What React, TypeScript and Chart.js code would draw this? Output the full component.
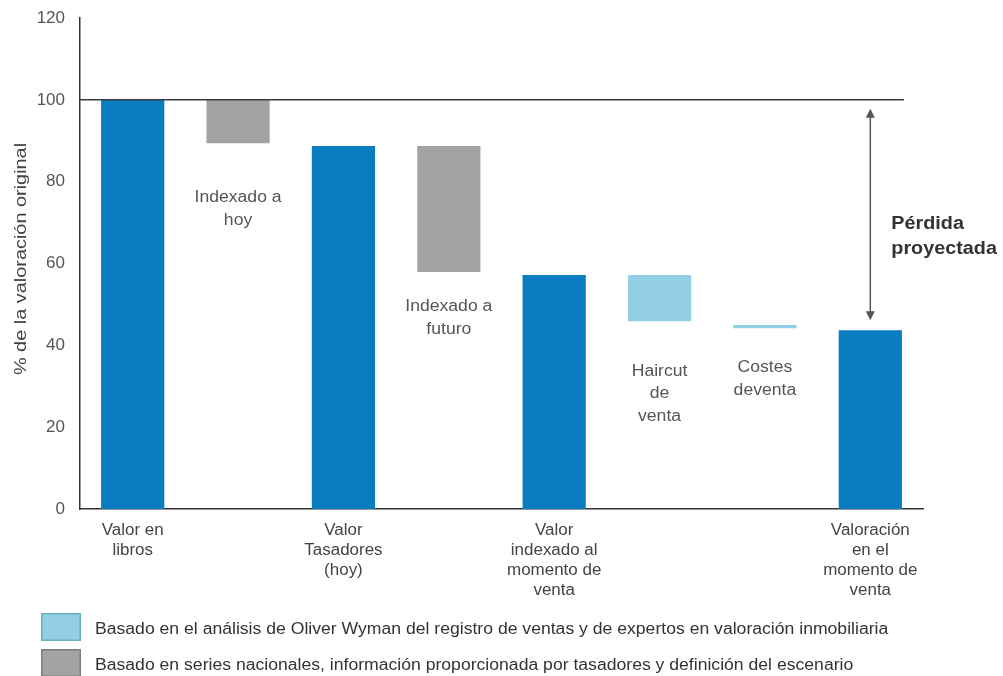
import React, { useEffect, useRef } from "react";
import { Chart, registerables } from "chart.js";
Chart.register(...registerables);

const categories: string[][] = [
  ["Valor en", "libros"],
  [],
  ["Valor", "Tasadores", "(hoy)"],
  [],
  ["Valor", "indexado al", "momento de", "venta"],
  [],
  [],
  ["Valoración", "en el", "momento de", "venta"],
];
const barStart = [0, 89.4, 0, 57.9, 0, 45.9, 44.2, 0];
const barEnd = [100, 100, 88.7, 88.7, 57.2, 57.2, 45.0, 43.7];
const barKind = ["total", "gray", "total", "gray", "total", "light", "light", "total"];
const innerLabelIndex = [1, 3, 5, 6];
const innerLabelText = [
  ["Indexado a", "hoy"],
  ["Indexado a", "futuro"],
  ["Haircut", "de", "venta"],
  ["Costes", "deventa"],
];
const innerLabelValue = [76, 49.4, 33.7, 34.5];
const yTickValues = [0, 20, 40, 60, 80, 100, 120];
const referenceLevel = 100;
const yTitle = "% de la valoración original";
const lossLabel = ["Pérdida", "proyectada"];
const legendKinds = ["light", "gray"];
const legendTexts = [
  "Basado en el análisis de Oliver Wyman del registro de ventas y de expertos en valoración inmobiliaria",
  "Basado en series nacionales, información proporcionada por tasadores y definición del escenario",
];

const COLORS: Record<string, string> = {
  total: "#0a7dc0",
  gray: "#a2a3a5",
  light: "#92cfe6",
};
const LEGEND_BORDER: Record<string, string> = {
  light: "#6aaebf",
  gray: "#7d7d7d",
};
const FONT = "Arial, 'Liberation Sans', sans-serif";

function drawStretched(ctx: CanvasRenderingContext2D, text: string, x: number, y: number, align: CanvasTextAlign, sx: number) {
  ctx.save();
  ctx.translate(x, y);
  ctx.scale(sx, 1);
  ctx.textAlign = align;
  ctx.textBaseline = "middle";
  ctx.fillText(text, 0, 0);
  ctx.restore();
}

const overlayPlugin = {
  id: "overlay",
  afterDatasetsDraw(chart: any) {
    const ctx = chart.ctx as CanvasRenderingContext2D;
    const x = chart.scales.x;
    const y = chart.scales.y;
    const meta = chart.getDatasetMeta(0);
    ctx.save();
    // reference line at 100
    const last = meta.data[meta.data.length - 1];
    const lineRight = last.x + last.width / 2 + 2;
    const yRef = y.getPixelForValue(referenceLevel);
    ctx.strokeStyle = "#3a3a3a";
    ctx.lineWidth = 1.5;
    ctx.beginPath();
    ctx.moveTo(chart.chartArea.left, yRef);
    ctx.lineTo(lineRight, yRef);
    ctx.stroke();

    // arrow
    const ax = last.x;
    const yTop = yRef + 9;
    const yBot = y.getPixelForValue(barEnd[barEnd.length - 1]) - 10;
    ctx.strokeStyle = "#555";
    ctx.fillStyle = "#555";
    ctx.lineWidth = 1.5;
    ctx.beginPath();
    ctx.moveTo(ax, yTop + 6);
    ctx.lineTo(ax, yBot - 6);
    ctx.stroke();
    ctx.beginPath();
    ctx.moveTo(ax, yTop);
    ctx.lineTo(ax - 4.5, yTop + 9);
    ctx.lineTo(ax + 4.5, yTop + 9);
    ctx.closePath();
    ctx.fill();
    ctx.beginPath();
    ctx.moveTo(ax, yBot);
    ctx.lineTo(ax - 4.5, yBot - 9);
    ctx.lineTo(ax + 4.5, yBot - 9);
    ctx.closePath();
    ctx.fill();

    // loss label
    ctx.fillStyle = "#333";
    ctx.font = `bold 18px ${FONT}`;
    const midY = (yTop + yBot) / 2;
    drawStretched(ctx, lossLabel[0], ax + 21, midY + 10, "left", 1.1);
    drawStretched(ctx, lossLabel[1], ax + 21, midY + 35, "left", 1.1);

    // inner labels
    ctx.fillStyle = "#555";
    ctx.font = `16px ${FONT}`;
    innerLabelIndex.forEach((idx, i) => {
      const cx = x.getPixelForValue(idx);
      const y0 = y.getPixelForValue(innerLabelValue[i]);
      innerLabelText[i].forEach((t, k) => drawStretched(ctx, t, cx, y0 + k * 22.5, "center", 1.1));
    });

    // category labels under the axis
    ctx.fillStyle = "#444";
    ctx.font = `16px ${FONT}`;
    const base = chart.chartArea.bottom;
    categories.forEach((lines, i) => {
      const cx = x.getPixelForValue(i);
      lines.forEach((t, k) => drawStretched(ctx, t, cx, base + 22 + k * 20, "center", 1.06));
    });

    // y title
    ctx.fillStyle = "#444";
    ctx.font = `17px ${FONT}`;
    ctx.save();
    ctx.translate(21, 259);
    ctx.rotate(-Math.PI / 2);
    drawStretched(ctx, yTitle, 0, 0, "center", 1.17);
    ctx.restore();

    // legend
    ctx.font = `16px ${FONT}`;
    legendKinds.forEach((kind, i) => {
      const top = 613 + i * 36;
      ctx.fillStyle = COLORS[kind];
      ctx.fillRect(41, top, 40, 28);
      ctx.strokeStyle = LEGEND_BORDER[kind];
      ctx.lineWidth = 1.5;
      ctx.strokeRect(41.75, top + 0.75, 38.5, 26.5);
      ctx.fillStyle = "#333";
      drawStretched(ctx, legendTexts[i], 95, top + 17, "left", 1.1);
    });
    ctx.restore();
  },
};

export default function App() {
  const ref = useRef<HTMLCanvasElement | null>(null);
  useEffect(() => {
    document.body.style.margin = "0";
    const canvas = ref.current!;
    const chart = new Chart(canvas, {
      type: "bar",
      data: {
        labels: categories.map((c) => c.join(" ")),
        datasets: [
          {
            data: barStart.map((s, i) => [s, barEnd[i]]) as any,
            backgroundColor: barKind.map((k) => COLORS[k]),
            borderWidth: 0,
            barPercentage: 0.6,
            categoryPercentage: 1,
          },
        ],
      },
      options: {
        animation: false,
        responsive: false,
        maintainAspectRatio: false,
        layout: { padding: { top: 18, right: 80, left: 0, bottom: 0 } },
        plugins: { legend: { display: false }, tooltip: { enabled: false } },
        scales: {
          x: {
            grid: { display: false, drawTicks: false },
            border: { display: true, color: "#333", width: 1.5 },
            ticks: { display: false },
            afterFit(scale: any) {
              scale.height = 167;
              scale.paddingLeft = 0;
              scale.paddingRight = 0;
            },
          },
          y: {
            min: 0,
            max: 120,
            afterBuildTicks(scale: any) {
              scale.ticks = yTickValues.map((v) => ({ value: v }));
            },
            grid: { display: false, drawTicks: false },
            border: { display: true, color: "#333", width: 1.5 },
            ticks: {
              padding: 15,
              color: "#555",
              font: { family: FONT, size: 17 },
            },
            afterFit(scale: any) {
              scale.width = 80;
              scale.paddingTop = 0;
              scale.paddingBottom = 0;
            },
          },
        },
      },
      plugins: [overlayPlugin],
    });
    return () => chart.destroy();
  }, []);
  return (
    <div style={{ width: 1003, height: 676, background: "#fff" }}>
      <canvas ref={ref} width={1003} height={676} style={{ display: "block" }} />
    </div>
  );
}
